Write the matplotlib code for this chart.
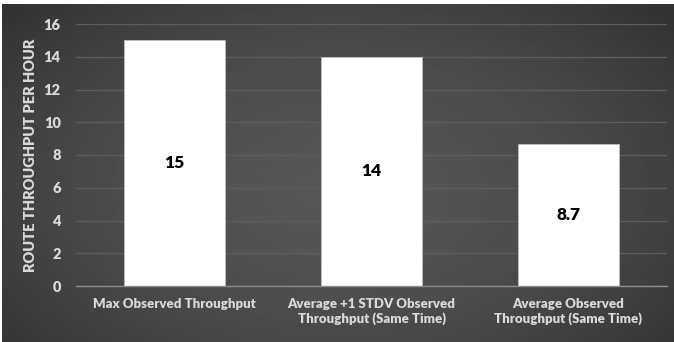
import numpy as np
import matplotlib
matplotlib.use("Agg")
import matplotlib.pyplot as plt

categories = [
    "Max Observed Throughput",
    "Average +1 STDV Observed\nThroughput (Same Time)",
    "Average Observed\nThroughput (Same Time)",
]
values = [15, 14, 8.7]
value_labels = ["15", "14", "8.7"]
y_ticks = [0, 2, 4, 6, 8, 10, 12, 14, 16]

plt.rcParams["font.family"] = ["Lato", "DejaVu Sans"]
WEIGHT = "heavy"

fig = plt.figure(figsize=(6.74, 3.42), dpi=100)
fig.patch.set_facecolor("white")

# dark slide-style background with a soft radial glow
bg = fig.add_axes([2 / 674, 0, 1 - 2 / 674, 1 - 4 / 342])
yy, xx = np.mgrid[0:1:200j, 0:1:400j]
r = np.sqrt(((xx - 0.5) / 0.75) ** 2 + ((yy - 0.45) / 0.9) ** 2)
shade = np.clip(0.34 - 0.17 * r ** 1.6, 0.16, 0.34)
bg.imshow(shade, cmap="gray", vmin=0, vmax=1, aspect="auto",
          extent=(0, 1, 0, 1), origin="lower")
bg.axis("off")

ax = fig.add_axes([76 / 674, 1 - 286 / 342, (667 - 76) / 674, (286 - 24) / 342])
ax.set_facecolor("none")
x = np.arange(len(categories))
bars = ax.bar(x, values, width=0.51, color="white", edgecolor="#bdbdbd",
              linewidth=0.6, zorder=3)
for bar, lab in zip(bars, value_labels):
    ax.text(bar.get_x() + bar.get_width() / 2, bar.get_height() / 2, lab,
            ha="center", va="center", fontsize=12.5, fontweight=WEIGHT,
            color="black", zorder=4)

ax.set_xlim(-0.5, 2.5)
ax.set_ylim(0, 16)
ax.set_yticks(y_ticks)
ax.set_xticks(x)
ax.set_xticklabels(categories, fontsize=9.5, fontweight=WEIGHT, color="#d9d9d9")
for t in ax.get_yticklabels():
    t.set_fontsize(10.5)
    t.set_fontweight(WEIGHT)
    t.set_color("#d9d9d9")
ax.tick_params(axis="both", length=0)
ax.tick_params(axis="y", pad=11)
ax.tick_params(axis="x", pad=9)
ax.grid(axis="y", color="#5c5c5c", linewidth=1.0, zorder=0)
for side in ["top", "right", "left"]:
    ax.spines[side].set_visible(False)
ax.spines["bottom"].set_color("#8c8c8c")
ax.spines["bottom"].set_linewidth(1.0)
ax.spines["bottom"].set_zorder(5)

ax.set_ylabel("ROUTE THROUGHPUT PER HOUR", fontsize=10.5, fontweight=WEIGHT,
              color="#d9d9d9")
ax.yaxis.set_label_coords(-0.066, 0.5)

fig.savefig("out.png", dpi=100)
